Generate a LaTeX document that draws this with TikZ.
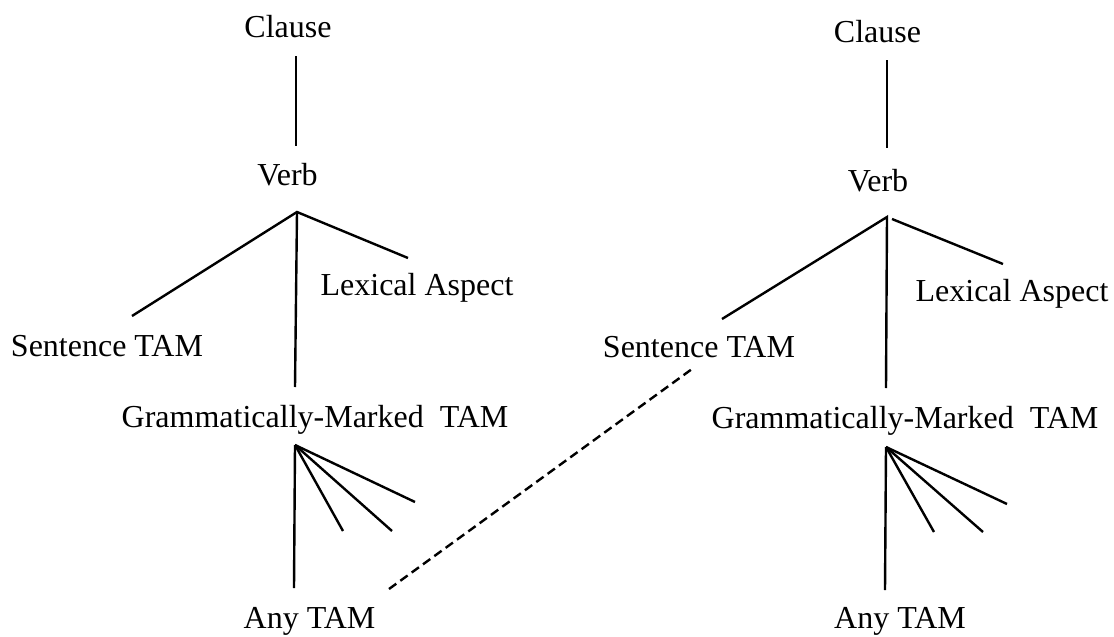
\documentclass[tikz,border=0pt]{standalone}
\usepackage{fontspec}
\setmainfont{Liberation Serif}
\begin{document}
\begin{tikzpicture}[x=1pt,y=-1pt,
  lbl/.style={inner sep=0pt, anchor=base, font=\fontsize{32}{38}\selectfont},
  edge/.style={line width=2.4pt},
  dashedge/.style={line width=2.4pt, dash pattern=on 9pt off 5pt}]
\useasboundingbox[fill=white] (0,0) rectangle (1114,637);

% ---------- left tree ----------
\node[lbl] (clauseL) at (288,37) {Clause};
\node[lbl] (verbL) at (287.5,185) {Verb};
\node[lbl] (lexL) at (417,295) {Lexical Aspect};
\node[lbl] (sentL) at (107,356) {Sentence TAM};
\node[lbl] (gramL) at (315,427) {Grammatically-Marked\ \ TAM};
\node[lbl] (anyL) at (309.5,628) {Any TAM};

\coordinate (cL1) at (296,56);
\coordinate (cL2) at (296,146);
\coordinate (vL) at (297,212);
\coordinate (sL) at (132,316);
\coordinate (lL) at (408,258);
\coordinate (gL) at (295,387);
\coordinate (fL) at (295,445);
\coordinate (f1L) at (415,502);
\coordinate (f2L) at (392,531);
\coordinate (f3L) at (343,531);
\coordinate (aL) at (294,588);

\draw[edge] (cL1) -- (cL2);
\draw[edge] (sL) -- (vL) -- (lL);
\draw[edge] (vL) -- (gL);
\draw[edge] (fL) -- (f1L);
\draw[edge] (fL) -- (f2L);
\draw[edge] (fL) -- (f3L);
\draw[edge] (fL) -- (aL);

% ---------- right tree ----------
\node[lbl] (clauseR) at (877.5,42) {Clause};
\node[lbl] (verbR) at (878,191) {Verb};
\node[lbl] (lexR) at (1012,301) {Lexical Aspect};
\node[lbl] (sentR) at (699,357) {Sentence TAM};
\node[lbl] (gramR) at (905,428) {Grammatically-Marked\ \ TAM};
\node[lbl] (anyR) at (900,628) {Any TAM};

\coordinate (cR1) at (887,60);
\coordinate (cR2) at (887,148);
\coordinate (vR) at (887,217);
\coordinate (sR) at (722,319);
\coordinate (lR0) at (892,219);
\coordinate (lR) at (1003,264);
\coordinate (gR) at (886,388);
\coordinate (fR) at (886,447);
\coordinate (f1R) at (1007,504);
\coordinate (f2R) at (983,532);
\coordinate (f3R) at (934,532);
\coordinate (aR) at (885,590);

\draw[edge] (cR1) -- (cR2);
\draw[edge] (sR) -- (vR) -- (gR);
\draw[edge] (lR0) -- (lR);
\draw[edge] (fR) -- (f1R);
\draw[edge] (fR) -- (f2R);
\draw[edge] (fR) -- (f3R);
\draw[edge] (fR) -- (aR);

% ---------- dashed link ----------
\coordinate (d1) at (389,589);
\coordinate (d2) at (692,369);
\draw[dashedge] (d1) -- (d2);
\end{tikzpicture}
\end{document}
